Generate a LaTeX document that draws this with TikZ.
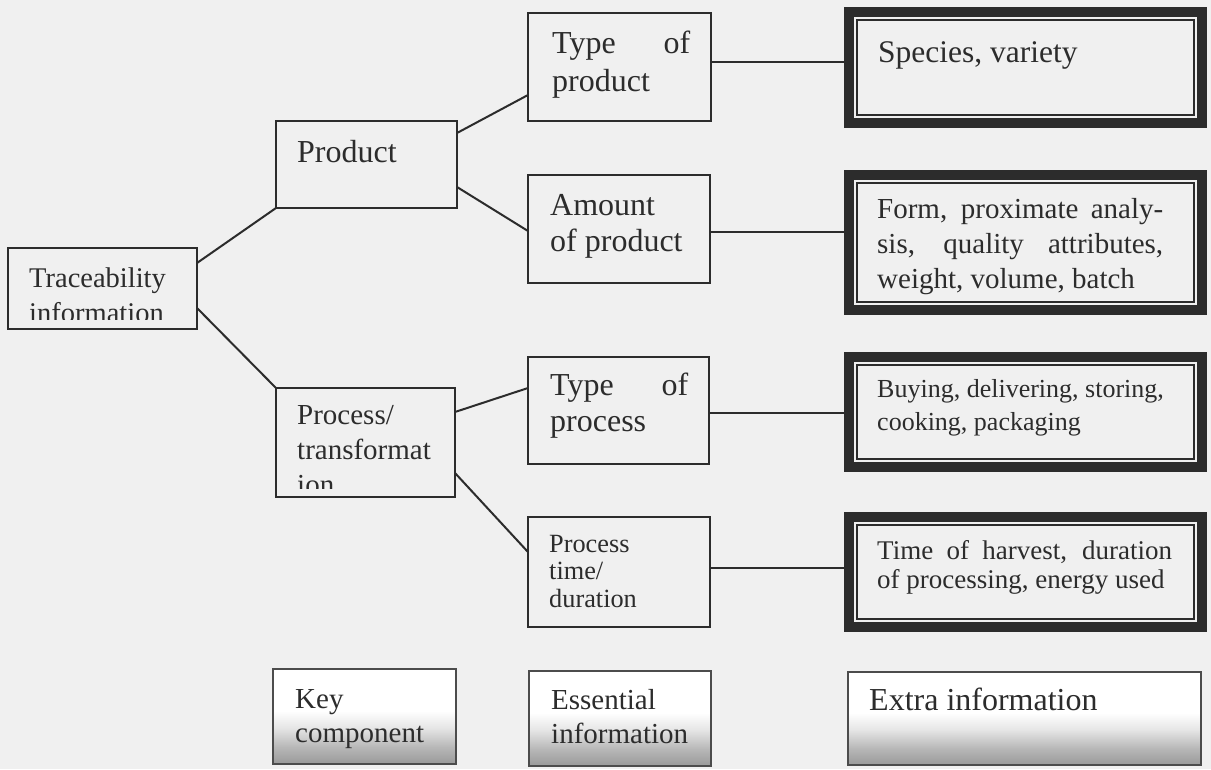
\documentclass[tikz,border=0pt]{standalone}
\usepackage{fontspec}
\setmainfont{Liberation Serif}
\definecolor{paper}{RGB}{240,240,240}
\definecolor{ink}{RGB}{44,44,44}
% legend fill: white in the upper half, fading to grey at the bottom edge
\pgfdeclareverticalshading{legendfade}{100bp}{color(0bp)=(black!40); color(25bp)=(black!40); color(34bp)=(black!28); color(44bp)=(black!10); color(53bp)=(white); color(75bp)=(white); color(100bp)=(white)}
\begin{document}
\begin{tikzpicture}[x=1pt,y=-1pt,
  box/.style={draw=ink, line width=2pt, fill=paper, rectangle, inner sep=0pt, outer sep=0pt},
  dbox/.style={draw=ink, line width=10pt, fill=paper, rectangle, inner sep=0pt, outer sep=5pt},
  keybox/.style={draw=ink!85, line width=1.6pt, shade, shading=legendfade, rectangle, inner sep=0pt, outer sep=0pt},
  link/.style={draw=ink, line width=2pt},
  txt/.style={anchor=base west, inner sep=0pt, text=ink},
]
\fill[paper] (0,0) rectangle (1211,769);
\useasboundingbox (0,0) rectangle (1211,769);

% ---- key components
\node[box, minimum width=189pt, minimum height=81pt]  (trace) at (102.5,288.5) {};
\node[box, minimum width=181pt, minimum height=87pt]  (prod)  at (366.5,164.5) {};
\node[box, minimum width=179pt, minimum height=109pt] (proc)  at (365.5,442.5) {};

% ---- essential information
\node[box, minimum width=183pt, minimum height=108pt] (top)   at (619.5,67) {};
\node[box, minimum width=182pt, minimum height=108pt] (amt)   at (619,229) {};
\node[box, minimum width=181pt, minimum height=107pt] (tproc) at (618.5,410.5) {};
\node[box, minimum width=182pt, minimum height=110pt] (ptime) at (619,572) {};

% ---- extra information (double frame)
\node[dbox, minimum width=353pt, minimum height=111pt] (spec) at (1025.5,67.5) {};
\node[dbox, minimum width=353pt, minimum height=135pt] (form) at (1025.5,242.5) {};
\node[dbox, minimum width=353pt, minimum height=110pt] (buy)  at (1025.5,412) {};
\node[dbox, minimum width=353pt, minimum height=110pt] (harv) at (1025.5,572) {};
\foreach \n in {spec,form,buy,harv}
  \draw[ink, line width=2pt] ([shift={(13,13)}]\n.north west) rectangle ([shift={(-13,-13)}]\n.south east);

% ---- legend
\node[keybox, minimum width=183pt, minimum height=95pt] (lkey)   at (364.5,716.5) {};
\node[keybox, minimum width=182pt, minimum height=95pt] (lessen) at (620,718.5) {};
\node[keybox, minimum width=353pt, minimum height=93pt] (lextra) at (1024.5,718.5) {};

% ---- connectors
\draw[link] (trace.east |- 0,263) -- (prod.south west);
\draw[link] (trace.east |- 0,308) -- (proc.north west);
\draw[link] (prod.east |- 0,133) -- (top.west |- 0,95);
\draw[link] (prod.east |- 0,187) -- (amt.west |- 0,231);
\draw[link] (top.east |- 0,62) -- (spec.west |- 0,62);
\draw[link] (amt.east |- 0,232) -- (form.west |- 0,232);
\draw[link] (proc.east |- 0,412) -- (tproc.west |- 0,388);
\draw[link] (proc.east |- 0,473) -- (ptime.west |- 0,552);
\draw[link] (tproc.east |- 0,413) -- (buy.west |- 0,413);
\draw[link] (ptime.east |- 0,568) -- (harv.west |- 0,568);

% ---- texts
\node[txt, font=\fontsize{28.5}{32}\selectfont] (trace-a) at (29,287) {Traceability};
\begin{scope}
  \clip (8,248) rectangle (197,319.5);
  \node[txt, font=\fontsize{28.5}{32}\selectfont] (trace-b) at (29,322) {information};
\end{scope}

\node[txt, font=\fontsize{32}{38}\selectfont] (prod-a) at (297,162) {Product};

\node[txt, font=\fontsize{29}{35}\selectfont] (proc-a) at (297,424) {Process/};
\node[txt, font=\fontsize{29}{35}\selectfont] (proc-b) at (297,459) {transformat};
\begin{scope}
  \clip (276,388) rectangle (455,488);
  \node[txt, font=\fontsize{29}{35}\selectfont] (proc-c) at (297,494) {ion};
\end{scope}

\node[txt, font=\fontsize{32}{38}\selectfont] (top-a) at (552,53) {\makebox[138pt][s]{Type of}};
\node[txt, font=\fontsize{32}{38}\selectfont] (top-b) at (552,91) {product};

\node[txt, font=\fontsize{32}{38}\selectfont] (amt-a) at (550,215) {Amount};
\node[txt, font=\fontsize{32}{38}\selectfont] (amt-b) at (550,251) {of product};

\node[txt, font=\fontsize{32}{38}\selectfont] (tproc-a) at (550,395) {\makebox[138pt][s]{Type of}};
\node[txt, font=\fontsize{32}{38}\selectfont] (tproc-b) at (550,431) {process};

\node[txt, font=\fontsize{26.3}{28}\selectfont] (ptime-a) at (549,552) {Process};
\node[txt, font=\fontsize{26.3}{28}\selectfont] (ptime-b) at (549,579) {time/};
\node[txt, font=\fontsize{26.3}{28}\selectfont] (ptime-c) at (549,607) {duration};

\node[txt, font=\fontsize{31.5}{36}\selectfont] (spec-a) at (878,62) {Species, variety};

\node[txt, font=\fontsize{29}{35}\selectfont] (form-a) at (877,218) {\makebox[286pt][s]{Form, proximate analy-}};
\node[txt, font=\fontsize{29}{35}\selectfont] (form-b) at (877,253) {\makebox[286pt][s]{sis, quality attributes,}};
\node[txt, font=\fontsize{29}{35}\selectfont] (form-c) at (877,288) {weight, volume, batch};

\node[txt, font=\fontsize{26}{33}\selectfont] (buy-a) at (877,397) {Buying, delivering, storing,};
\node[txt, font=\fontsize{26}{33}\selectfont] (buy-b) at (877,430) {cooking, packaging};

\node[txt, font=\fontsize{27}{29}\selectfont] (harv-a) at (877,559) {\makebox[295pt][s]{Time of harvest, duration}};
\node[txt, font=\fontsize{27}{29}\selectfont] (harv-b) at (877,588) {of processing, energy used};

\node[txt, font=\fontsize{29}{34}\selectfont] (lkey-a) at (295,708) {Key};
\node[txt, font=\fontsize{29}{34}\selectfont] (lkey-b) at (295,742) {component};
\node[txt, font=\fontsize{29}{34}\selectfont] (lessen-a) at (551,709) {Essential};
\node[txt, font=\fontsize{29}{34}\selectfont] (lessen-b) at (551,743) {information};
\node[txt, font=\fontsize{32}{38}\selectfont] (lextra-a) at (869,710) {Extra information};
\end{tikzpicture}
\end{document}
